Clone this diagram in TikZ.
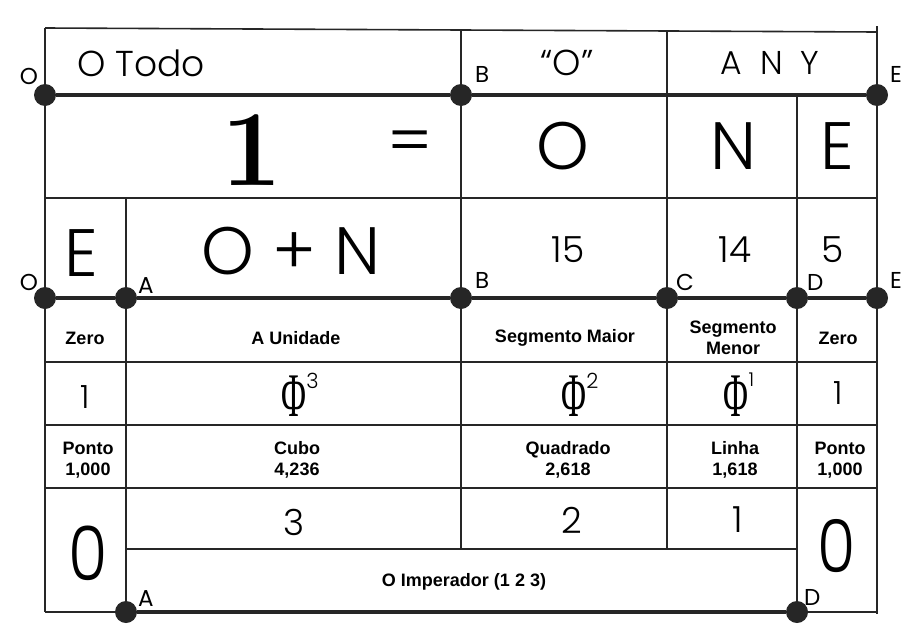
\documentclass[tikz,border=0pt]{standalone}
\usepackage{fontspec}
\setsansfont{Liberation Sans}
\newfontfamily\handfont{Poppins Light}
\newfontfamily\markfont{Poppins}
\newfontfamily\phifont{Liberation Serif}
\usepackage{graphicx}
\usetikzlibrary{positioning}

\begin{document}
\begin{tikzpicture}[
        x=1pt,y=-1pt,
        grid/.style={line width=1.6pt,black!85},
        axis/.style={line width=4pt,black!85},
        dot/.style={circle,fill=black!85,inner sep=0pt,minimum size=22pt},
        ptlabel/.style={inner sep=0pt,font=\markfont\fontsize{23}{23}\selectfont},
        hand/.style={inner sep=0pt,font=\handfont\fontsize{36}{36}\selectfont},
        big/.style={inner sep=0pt,font=\handfont\fontsize{67}{67}\selectfont},
        cell/.style={inner sep=0pt,align=center,font=\sffamily\bfseries\fontsize{18}{21}\selectfont},
        phi/.style={inner sep=0pt,anchor=base,font=\phifont\fontsize{62}{62}\selectfont}
    ]
    \useasboundingbox[fill=white] (0,0) rectangle (910,624);

    \draw[grid] (45,28) -- (877,32);
    \draw[grid] (45,28) -- (45,612);
    \draw[grid] (877,26) -- (877,614);
    \draw[grid] (461,31) -- (461,549);
    \draw[grid] (667,32) -- (667,549);
    \draw[grid] (797,95) -- (797,612);
    \draw[grid] (126,198) -- (126,612);
    \draw[grid] (45,198) -- (877,198);
    \foreach \y in {362,425,488} {
        \draw[grid] (45,\y) -- (877,\y);
    }
    \draw[grid] (126,549) -- (797,549);
    \draw[grid] (45,612) -- (877,612);

    \node[dot] (o1) at (45,95) {};
    \node[dot] (b1) at (461,95) {};
    \node[dot] (e1) at (877,95) {};
    \node[dot] (o2) at (45,298) {};
    \node[dot] (a2) at (126,298) {};
    \node[dot] (b2) at (461,298) {};
    \node[dot] (c2) at (667,298) {};
    \node[dot] (d2) at (797,298) {};
    \node[dot] (e2) at (877,298) {};
    \node[dot] (a3) at (126,612) {};
    \node[dot] (d3) at (797,612) {};

    \draw[axis] (o1) -- (b1) -- (e1);
    \draw[axis] (o2) -- (a2) -- (b2) -- (c2) -- (d2) -- (e2);
    \draw[axis] (a3) -- (d3);

    \node[ptlabel, above left=2pt and -1pt of o1] (lo1) {O};
    \node[ptlabel, above right=4pt and 6pt of b1] (lb1) {B};
    \node[ptlabel, above right=4pt and 5pt of e1] (le1) {E};
    \node[ptlabel, above left=-1pt and -1pt of o2] (lo2) {O};
    \node[ptlabel, above right=-4pt and 4pt of a2] (la2) {A};
    \node[ptlabel, above right=1pt and 6pt of b2] (lb2) {B};
    \node[ptlabel, above right=-1pt and 1pt of c2] (lc2) {C};
    \node[ptlabel, above right=-1pt and 2pt of d2] (ld2) {D};
    \node[ptlabel, above right=1pt and 5pt of e2] (le2) {E};
    \node[ptlabel, above right=-3pt and 4pt of a3] (la3) {A};
    \node[ptlabel, above right=-2pt and -1pt of d3] (ld3) {D};

    \node[hand] (todo) at (141,63) {O Todo};
    \node[hand] (aspas) at (567,63) {“O”};
    \node[hand, font=\handfont\fontsize{33}{33}\selectfont] (any) at (770,63) {A\hspace{18pt}N\hspace{18pt}Y};

    \node[inner sep=0pt, font=\bfseries\fontsize{108}{108}\selectfont] (um) at (252,150) {1};
    \node[big] (igual) at (410,148) {=};
    \node[big] (bigO) at (563,146) {O};
    \node[big] (bigN) at (733,146) {N};
    \node[big] (bigE) at (837,146) {E};

    \node[big] (sE) at (81,253) {E};
    \node[big] (soma) at (291,251) {O + N};
    \node[hand] (n15) at (568,250) {15};
    \node[hand] (n14) at (735,250) {14};
    \node[hand] (n5) at (833,250) {5};

    \node[cell] (zero1) at (85,338) {Zero};
    \node[cell] (unid) at (296,338) {A Unidade};
    \node[cell] (smaior) at (565,338) {Segmento Maior};
    \node[cell] (smenor) at (733,338) {Segmento\\Menor};
    \node[cell] (zero2) at (838,338) {Zero};

    \node[hand, font=\handfont\fontsize{32}{32}\selectfont] (um1) at (85,397) {1};
    \node[phi] (phi3) at (300,416) {\scalebox{0.55}[1]{Φ}\raisebox{28pt}{\handfont\fontsize{21}{21}\selectfont 3}};
    \node[phi] (phi2) at (580,416) {\scalebox{0.55}[1]{Φ}\raisebox{28pt}{\handfont\fontsize{21}{21}\selectfont 2}};
    \node[phi] (phi1) at (739,416) {\scalebox{0.55}[1]{Φ}\raisebox{30pt}{\handfont\fontsize{19}{19}\selectfont 1}};
    \node[hand, font=\handfont\fontsize{32}{32}\selectfont] (um2) at (838,393) {1};

    \node[cell] (ponto1) at (88,460) {Ponto\\1,000};
    \node[cell] (cubo) at (297,460) {Cubo\\4,236};
    \node[cell] (quad) at (568,460) {Quadrado\\2,618};
    \node[cell] (linha) at (735,460) {Linha\\1,618};
    \node[cell] (ponto2) at (840,460) {Ponto\\1,000};

    \node[hand] (tres) at (294,522) {3};
    \node[hand] (dois) at (572,520) {2};
    \node[hand] (um3) at (738,520) {1};

    \node[inner sep=0pt, font=\handfont\fontsize{75}{75}\selectfont] (zeroL) at (88,553) {\scalebox{0.85}[1]{0}};
    \node[inner sep=0pt, font=\handfont\fontsize{73}{73}\selectfont] (zeroR) at (837,546) {\scalebox{0.85}[1]{0}};

    \node[cell] (imp) at (464,582) {O Imperador (1 2 3)};
\end{tikzpicture}
\end{document}
